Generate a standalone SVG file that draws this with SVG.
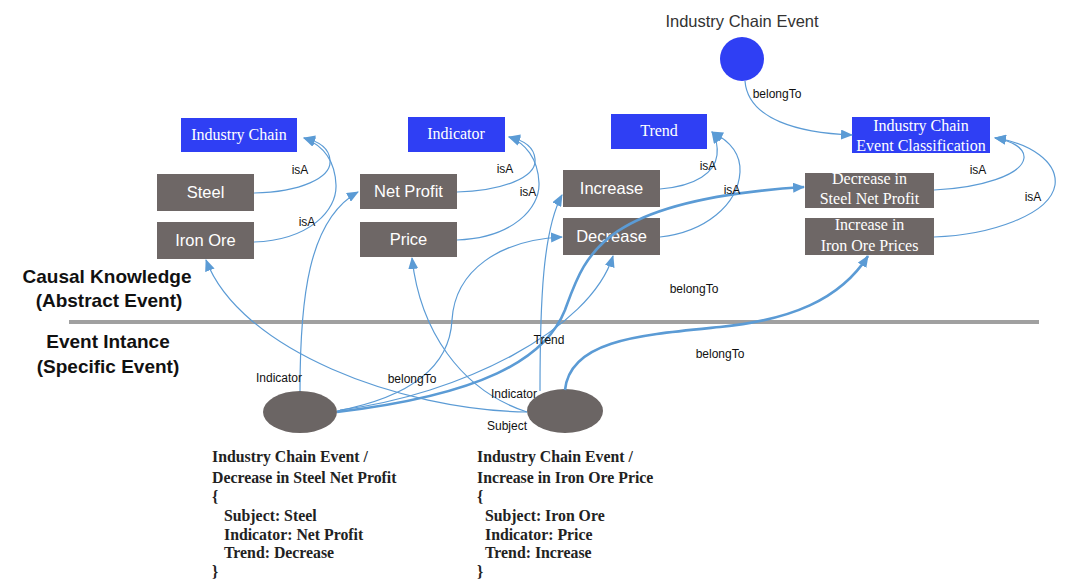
<svg xmlns="http://www.w3.org/2000/svg" width="1071" height="588" viewBox="0 0 1071 588">
<style>
.bg{fill:#ffffff}
.blue rect{fill:#2f3ff4}
.gray rect{fill:#6e6766}
.serifw{font-family:"Liberation Serif","Times New Roman",serif;font-size:16px;fill:#ffffff;text-anchor:middle}
.sansw{font-family:"Liberation Sans",Arial,sans-serif;font-size:16.5px;fill:#ffffff;text-anchor:middle}
.lbl{font-family:"Liberation Sans",Arial,sans-serif;font-size:12px;fill:#111111;text-anchor:middle}
.head{font-family:"Liberation Sans",Arial,sans-serif;font-size:19px;font-weight:bold;fill:#111111;text-anchor:middle}
.title{font-family:"Liberation Sans",Arial,sans-serif;font-size:16.5px;fill:#333333;text-anchor:middle}
.code{font-family:"Liberation Serif","Times New Roman",serif;font-size:15.8px;font-weight:bold;fill:#222222}
.edge{fill:none;stroke:#5b9bd5;stroke-width:1.2;marker-end:url(#arr)}
.thick{fill:none;stroke:#5b9bd5;stroke-width:2.6;marker-end:url(#arr)}
</style>
<defs>
<marker id="arr" markerUnits="userSpaceOnUse" markerWidth="12" markerHeight="10" refX="11" refY="5" orient="auto">
<path d="M0,0 L12,5 L0,10 z" fill="#5b9bd5"/>
</marker>
</defs>
<rect class="bg" x="0" y="0" width="1071" height="588"/>

<line x1="69" y1="322" x2="1039" y2="322" stroke="#a0a0a0" stroke-width="4"/>

<g id="section-labels">
<text class="head" x="107" y="283">Causal Knowledge</text>
<text class="head" x="109" y="307">(Abstract Event)</text>
<text class="head" x="108" y="348">Event Intance</text>
<text class="head" x="108" y="373">(Specific Event)</text>
</g>

<g id="industry-chain-event">
<text class="title" x="742" y="27">Industry Chain Event</text>
<circle cx="742" cy="59" r="22" fill="#2f3ff4"/>
</g>

<g id="industry-chain" class="blue">
<rect x="181" y="118" width="116" height="34"/>
<text class="serifw" x="239" y="140">Industry Chain</text>
</g>
<g id="indicator" class="blue">
<rect x="408" y="117" width="97" height="35"/>
<text class="serifw" x="456" y="139">Indicator</text>
</g>
<g id="trend" class="blue">
<rect x="611" y="114" width="96" height="35"/>
<text class="serifw" x="659" y="136">Trend</text>
</g>
<g id="event-classification" class="blue">
<rect x="852" y="117" width="138" height="36"/>
<text class="serifw" x="921" y="131">Industry Chain</text>
<text class="serifw" x="921" y="151">Event Classification</text>
</g>

<g id="steel" class="gray">
<rect x="157" y="174" width="97" height="37"/>
<text class="sansw" x="205.5" y="198">Steel</text>
</g>
<g id="iron-ore" class="gray">
<rect x="157" y="222" width="97" height="37"/>
<text class="sansw" x="205.5" y="246">Iron Ore</text>
</g>
<g id="net-profit" class="gray">
<rect x="360" y="174" width="97" height="35"/>
<text class="sansw" x="408.5" y="197">Net Profit</text>
</g>
<g id="price" class="gray">
<rect x="360" y="222" width="97" height="35"/>
<text class="sansw" x="408.5" y="245">Price</text>
</g>
<g id="increase" class="gray">
<rect x="563" y="170" width="97" height="37"/>
<text class="sansw" x="611.5" y="194">Increase</text>
</g>
<g id="decrease" class="gray">
<rect x="563" y="218" width="97" height="37"/>
<text class="sansw" x="611.5" y="242">Decrease</text>
</g>
<g id="decrease-steel-net-profit" class="gray">
<rect x="805" y="173" width="129" height="35"/>
<text class="serifw" x="869.5" y="184">Decrease in</text>
<text class="serifw" x="869.5" y="204">Steel Net Profit</text>
</g>
<g id="increase-iron-ore-prices" class="gray">
<rect x="805" y="218" width="129" height="37"/>
<text class="serifw" x="869.5" y="230">Increase in</text>
<text class="serifw" x="869.5" y="251">Iron Ore Prices</text>
</g>

<g id="event-steel">
<ellipse cx="300" cy="412" rx="37" ry="21" fill="#6b6564"/>
<text class="code" x="212" y="462">Industry Chain Event /</text>
<text class="code" x="212" y="483">Decrease in Steel Net Profit</text>
<text class="code" x="212" y="502">{</text>
<text class="code" x="224" y="521">Subject: Steel</text>
<text class="code" x="224" y="540">Indicator: Net Profit</text>
<text class="code" x="224" y="558">Trend: Decrease</text>
<text class="code" x="212" y="577">}</text>
</g>
<g id="event-iron-ore">
<ellipse cx="565" cy="411" rx="38" ry="22" fill="#6b6564"/>
<text class="code" x="477" y="462">Industry Chain Event /</text>
<text class="code" x="477" y="483">Increase in Iron Ore Price</text>
<text class="code" x="477" y="502">{</text>
<text class="code" x="485" y="521">Subject: Iron Ore</text>
<text class="code" x="485" y="540">Indicator: Price</text>
<text class="code" x="485" y="558">Trend: Increase</text>
<text class="code" x="477" y="577">}</text>
</g>

<g id="connectors">
<path class="edge" d="M254,193 C300,192 332,178 330,160 C329,148 318,141 304,138"/>
<path class="edge" d="M254,242 C310,240 337,210 336,185 C335,160 322,145 304,138"/>
<path class="edge" d="M457,192 C503,191 537,177 535,159 C534,147 523,140 509,137"/>
<path class="edge" d="M457,240 C513,238 540,208 539,183 C538,158 525,143 509,137"/>
<path class="edge" d="M660,189 C697,186 715,172 717,155 C718,145 716,138 712,132"/>
<path class="edge" d="M660,237 C705,232 738,205 740,172 C741,152 728,140 712,132"/>
<path class="edge" d="M934,190 C980,188 1022,175 1024,158 C1025,148 1012,141 995,138"/>
<path class="edge" d="M934,237 C990,235 1050,215 1055,185 C1058,162 1030,143 995,138"/>
<path class="edge" d="M745,81 C748,120 800,133 852,135"/>
<path class="edge" d="M300,391 C300,300 308,220 358,192"/>
<path class="edge" d="M337,411 C420,395 450,360 452,320 C455,270 500,240 562,237"/>
<path class="edge" d="M340,410 C460,395 590,330 613,256"/>
<path class="thick" d="M337,412 C480,395 545,360 565,310 C585,255 600,200 804,187"/>
<path class="edge" d="M527,412 C400,410 240,350 206,260"/>
<path class="edge" d="M527,412 C460,390 420,330 412,258"/>
<path class="edge" d="M540,391 C540,300 543,230 562,195"/>
<path class="thick" d="M565,390 C570,340 640,335 720,327 C790,320 840,300 868,256"/>
</g>

<g id="edge-labels">
<text class="lbl" x="300" y="174">isA</text>
<text class="lbl" x="307" y="226">isA</text>
<text class="lbl" x="505" y="173">isA</text>
<text class="lbl" x="528" y="196">isA</text>
<text class="lbl" x="708" y="170">isA</text>
<text class="lbl" x="732" y="194">isA</text>
<text class="lbl" x="978" y="174">isA</text>
<text class="lbl" x="1033" y="201">isA</text>
<text class="lbl" x="777" y="98">belongTo</text>
<text class="lbl" x="694" y="293">belongTo</text>
<text class="lbl" x="720" y="358">belongTo</text>
<text class="lbl" x="412" y="383">belongTo</text>
<text class="lbl" x="279" y="382">Indicator</text>
<text class="lbl" x="514" y="398">Indicator</text>
<text class="lbl" x="549" y="344">Trend</text>
<text class="lbl" x="507" y="430">Subject</text>
</g>
</svg>
